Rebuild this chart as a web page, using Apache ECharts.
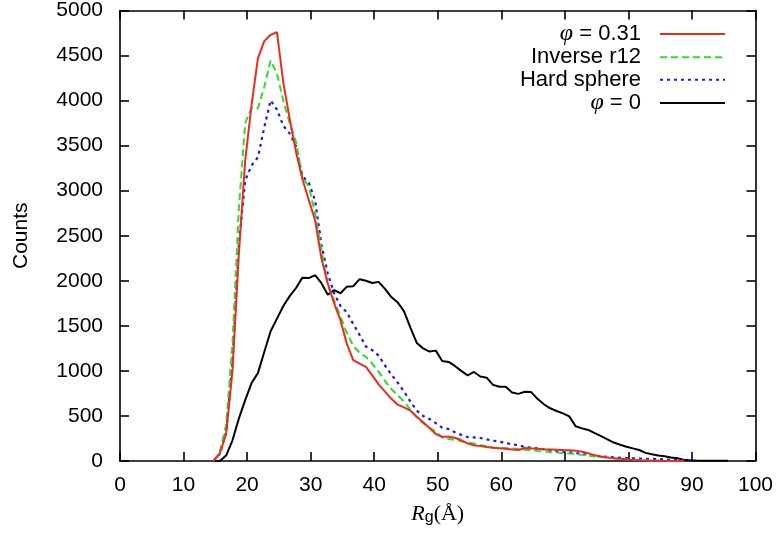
<!DOCTYPE html>
<html>
<head>
<meta charset="utf-8">
<script src="https://cdn.jsdelivr.net/npm/echarts@6/dist/echarts.min.js"></script>
<style>html,body{margin:0;padding:0;background:#fff;}#c{width:776px;height:535px;}</style>
</head>
<body>
<div id="c"></div>
<script>
// Rg bin centres (Å)
const rg = [14.7,15.7,16.7,17.7,18.7,19.7,20.7,21.7,22.7,23.7,24.7,25.7,26.7,27.7,28.7,29.7,30.7,31.7,32.7,33.7,34.7,35.7,36.7,37.7,38.7,39.7,40.7,41.7,42.7,43.7,44.7,45.7,46.7,47.7,48.7,49.7,50.7,51.7,52.7,53.7,54.7,55.7,56.7,57.7,58.7,59.7,60.7,61.7,62.7,63.7,64.7,65.7,66.7,67.7,68.7,69.7,70.7,71.7,72.7,73.7,74.7,75.7,76.7,77.7,78.7,79.7,80.7,81.7,82.7,83.7,84.7,85.7,86.7,87.7,88.7,89.7,90.7,91.7,92.7,93.7,94.7,95.7];

const phi031 = [0,80,300,1000,2300,3337,3950,4468,4660,4730,4760,4200,3800,3430,3130,2900,2672,2250,1970,1750,1560,1300,1120,1080,1045,950,850,770,690,625,595,560,490,430,366,300,268,270,258,230,195,175,165,155,148,142,135,128,122,144,140,135,130,128,125,122,120,115,103,85,65,50,40,30,24,18,12,8,5,3,2,1,1,0,0];
const inverseR12 = [0,100,400,1300,2800,3750,3920,3913,4150,4446,4300,4000,3750,3540,3150,3050,2749,2350,1950,1780,1600,1420,1280,1200,1155,1080,990,890,800,730,660,570,485,420,370,325,260,245,235,220,205,195,177,165,150,144,142,140,132,125,120,112,106,100,94,89,82,75,68,60,50,44,38,30,24,19,14,10,7,5,3,2,1,1,0];
const hardSphere = [0,80,320,1100,2400,3115,3280,3370,3700,4002,3900,3720,3636,3490,3160,3090,2893,2400,2080,1860,1720,1650,1520,1400,1270,1230,1170,1060,960,870,770,660,560,500,466,420,370,355,320,290,266,262,255,240,225,215,200,185,175,155,148,140,130,120,108,100,95,88,80,70,58,50,45,40,36,33,30,28,25,23,21,18,15,12,10,3];
const phi0 = [0,0,60,230,470,676,865,975,1210,1440,1580,1720,1830,1920,2035,2030,2062,1973,1845,1896,1862,1935,1940,2018,2000,1975,1988,1910,1820,1760,1660,1480,1310,1250,1215,1225,1110,1100,1055,1000,950,988,938,925,845,824,824,760,745,768,765,690,630,585,555,528,495,385,362,345,310,275,240,205,180,159,140,122,90,75,62,53,40,30,15,8,5,3,2,2,2,2];

const xTicks = [0,10,20,30,40,50,60,70,80,90,100];
const yTicks = [0,500,1000,1500,2000,2500,3000,3500,4000,4500,5000];

const seriesNames = ['{i|φ} = 0.31','Inverse r12','Hard sphere','{i|φ} = 0'];

function pairs(vals){ return vals.map((v,i)=>[rg[i], v]); }

const font = 'Liberation Sans';
const chart = echarts.init(document.getElementById('c'), null, {renderer:'canvas'});

const axisCommon = {
  axisLine:{show:true, onZero:false, lineStyle:{color:'#000', width:1.6}},
  axisTick:{show:true, inside:true, length:9, lineStyle:{color:'#000', width:1.6}},
  splitLine:{show:false},
  minorTick:{show:false}
};

chart.setOption({
  animation:false,
  backgroundColor:'#fff',
  grid:{left:120, right:20, top:10, bottom:74, containLabel:false},
  legend:{
    orient:'vertical', right:45, top:17, align:'right',
    itemWidth:65, itemHeight:14, itemGap:0,
    itemStyle:{opacity:0},
    textStyle:{fontFamily:font, fontSize:22, lineHeight:22.5, color:'#000', padding:[0,14,0,0],
      rich:{i:{fontFamily:'Liberation Serif', fontStyle:'italic', fontSize:24, lineHeight:22.5, color:'#000'}}},
    data: seriesNames
  },
  xAxis:[
    Object.assign({}, axisCommon, {
      type:'value', min:0, max:100, interval:10, position:'bottom',
      axisLabel:{show:true, margin:14, fontFamily:font, fontSize:21, color:'#000',
        formatter:(v)=> xTicks.includes(v) ? String(v) : ''},
      name:'{i|R}{s|g}{n|(Å)}', nameLocation:'middle', nameGap:41,
      nameTextStyle:{rich:{
        i:{fontFamily:'Liberation Serif', fontStyle:'italic', fontSize:22, color:'#000'},
        s:{fontFamily:font, fontSize:16, color:'#000', verticalAlign:'bottom', padding:[8,0,0,0]},
        n:{fontFamily:'Liberation Serif', fontSize:22, color:'#000'}
      }}
    }),
    Object.assign({}, axisCommon, {
      type:'value', min:0, max:100, interval:10, position:'top',
      axisLabel:{show:false}
    })
  ],
  yAxis:[
    Object.assign({}, axisCommon, {
      type:'value', min:0, max:5000, interval:500, position:'left',
      axisLabel:{show:true, margin:17, fontFamily:font, fontSize:21, color:'#000',
        formatter:(v)=> yTicks.includes(v) ? String(v) : ''},
      name:'Counts', nameLocation:'middle', nameGap:88, nameRotate:90,
      nameTextStyle:{fontFamily:font, fontSize:21, color:'#000'}
    }),
    Object.assign({}, axisCommon, {
      type:'value', min:0, max:5000, interval:500, position:'right',
      axisLabel:{show:false}
    })
  ],
  series:[
    {name:seriesNames[0], type:'line', data:pairs(phi031), symbol:'none', smooth:false, z:4,
      lineStyle:{color:'#ee2a1a', width:2}, itemStyle:{color:'#ee2a1a'}},
    {name:seriesNames[1], type:'line', data:pairs(inverseR12), symbol:'none', z:3,
      lineStyle:{color:'#2edc2e', width:2, type:[7,4]}, itemStyle:{color:'#2edc2e'}},
    {name:seriesNames[2], type:'line', data:pairs(hardSphere), symbol:'none', z:2,
      lineStyle:{color:'#1a1aee', width:2.2, type:[3,4]}, itemStyle:{color:'#1a1aee'}},
    {name:seriesNames[3], type:'line', data:pairs(phi0), symbol:'none', z:1,
      lineStyle:{color:'#000', width:2}, itemStyle:{color:'#000'}}
  ]
});
</script>
</body>
</html>
